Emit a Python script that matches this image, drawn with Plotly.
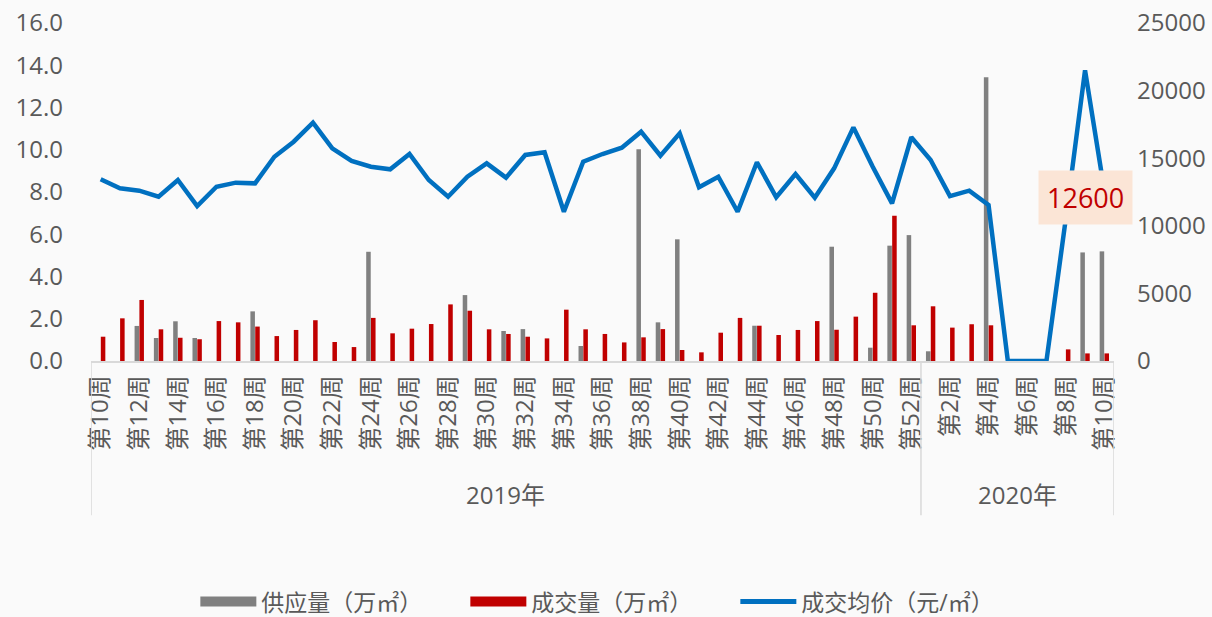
import plotly.graph_objects as go

# ---- data ----
weeks_2019 = [f"第{w}周" for w in range(10, 53)]
weeks_2020 = [f"第{w}周" for w in range(1, 11)]
week_labels = weeks_2019 + weeks_2020
years = ["2019年", "2020年"]

supply = [0, 0, 1.66, 1.09, 1.88, 1.09, 0, 0, 2.35, 0,
          0, 0, 0, 0, 5.17, 0, 0, 0, 0, 3.12,
          0, 1.42, 1.51, 0, 0, 0.71, 0, 0, 10.02, 1.83,
          5.76, 0, 0, 0, 1.67, 0, 0, 0, 5.41, 0,
          0.63, 5.46, 5.96, 0.46, 0, 0, 13.43, 0, 0, 0,
          0, 5.14, 5.19]
deal = [1.15, 2.02, 2.89, 1.50, 1.10, 1.03, 1.89, 1.83, 1.63, 1.18,
        1.47, 1.93, 0.90, 0.66, 2.04, 1.31, 1.53, 1.75, 2.68, 2.38,
        1.50, 1.28, 1.15, 1.07, 2.43, 1.50, 1.28, 0.88, 1.12, 1.51,
        0.52, 0.41, 1.34, 2.04, 1.67, 1.23, 1.47, 1.89, 1.48, 2.10,
        3.23, 6.88, 1.69, 2.59, 1.58, 1.74, 1.69, 0, 0, 0,
        0.55, 0.36, 0.36]
price = [13440, 12770, 12600, 12150, 13390, 11460, 12890, 13190, 13140, 15110,
         16220, 17630, 15730, 14800, 14370, 14180, 15310, 13390, 12150, 13630,
         14620, 13560, 15240, 15440, 11040, 14740, 15310, 15780, 16960, 15180,
         16840, 12850, 13630, 11040, 14700, 12110, 13830, 12080, 14250, 17280,
         14370, 11660, 16550, 14870, 12200, 12600, 11540, 0, 0, 0,
         10500, 21500, 12600]
callout_value = "12600"

n = len(week_labels)
n2019 = len(weeks_2019)
xs = list(range(n))

FONT = "Open Sans, Noto Sans CJK SC, sans-serif"
TXT = "#595959"
GRAY = "#808080"
RED = "#C00000"
BLUE = "#0070C0"

fig = go.Figure()
fig.add_trace(go.Bar(x=xs, y=supply, name="供应量（万㎡）", marker_color=GRAY,
                     marker_line_width=0, showlegend=False))
fig.add_trace(go.Bar(x=xs, y=deal, name="成交量（万㎡）", marker_color=RED,
                     marker_line_width=0, showlegend=False))
fig.add_trace(go.Scatter(x=xs, y=price, name="成交均价（元/㎡）", mode="lines",
                         line=dict(color=BLUE, width=4.5), yaxis="y2", showlegend=False))
# legend entries
fig.add_trace(go.Scatter(x=[None], y=[None], mode="lines", name="供应量（万㎡）",
                         line=dict(color=GRAY, width=18)))
fig.add_trace(go.Scatter(x=[None], y=[None], mode="lines", name="成交量（万㎡）",
                         line=dict(color=RED, width=18)))
fig.add_trace(go.Scatter(x=[None], y=[None], mode="lines", name="成交均价（元/㎡）",
                         line=dict(color=BLUE, width=5), yaxis="y2"))

tickvals = xs[::2]
ticktext = [week_labels[i] for i in tickvals]

fig.update_layout(
    width=1212, height=617,
    margin=dict(l=91, r=98, t=23, b=256, autoexpand=False),
    paper_bgcolor="#FAFAFA", plot_bgcolor="#FAFAFA",
    font=dict(family=FONT, color=TXT, size=24),
    barmode="group", bargap=0.5, bargroupgap=0.06,
    showlegend=True,
    legend=dict(orientation="h", x=0.102, xanchor="left", y=-0.712, yanchor="middle",
                font=dict(size=23, color=TXT), bgcolor="rgba(0,0,0,0)",
                entrywidth=199, entrywidthmode="pixels", itemwidth=56,
                traceorder="normal"),
    xaxis=dict(range=[-0.5, n - 0.5], tickmode="array", tickvals=tickvals,
               ticktext=ticktext, tickangle=-90, showgrid=False, zeroline=False,
               showline=True, linecolor="#D9D9D9", linewidth=1.5, ticks="",
               ticklabelstandoff=3, tickfont=dict(size=24, color=TXT)),
    yaxis=dict(range=[0, 16], dtick=2, tickformat=".1f", showgrid=False,
               zeroline=False, showline=False, tickfont=dict(size=24, color=TXT),
               ticklabelstandoff=27, ticklabeloverflow="allow"),
    yaxis2=dict(range=[0, 25000], dtick=5000, tickformat="d", overlaying="y", side="right",
                showgrid=False, zeroline=False, showline=False, ticklabeloverflow="allow",
                ticklabelstandoff=22, tickfont=dict(size=24, color=TXT)),
)

# category group separators and year labels
sep_bottom = -0.456
for xv in [-0.5, n2019 - 0.5, n - 0.5]:
    fig.add_shape(type="line", xref="x", yref="paper", x0=xv, x1=xv, y0=0, y1=sep_bottom,
                  line=dict(color="#D9D9D9", width=1.5))
year_centers = [(-0.5 + n2019 - 0.5) / 2, (n2019 - 0.5 + n - 0.5) / 2]
for yr, xc in zip(years, year_centers):
    fig.add_annotation(x=xc, xref="x", y=-0.396, yref="paper", text=yr, showarrow=False,
                       font=dict(size=24, color=TXT), xanchor="center", yanchor="middle")

# callout
fig.add_annotation(x=n - 2, xref="x", y=12130, yref="y2", text=callout_value,
                   showarrow=False, font=dict(size=27, color=RED),
                   bgcolor="#FBE5D6", borderpad=8, xanchor="center", yanchor="middle")

fig.write_html(
    "out.html",
    config={"displayModeBar": False},
    post_script="document.body.style.margin='0';document.body.style.background='#FAFAFA';",
)
